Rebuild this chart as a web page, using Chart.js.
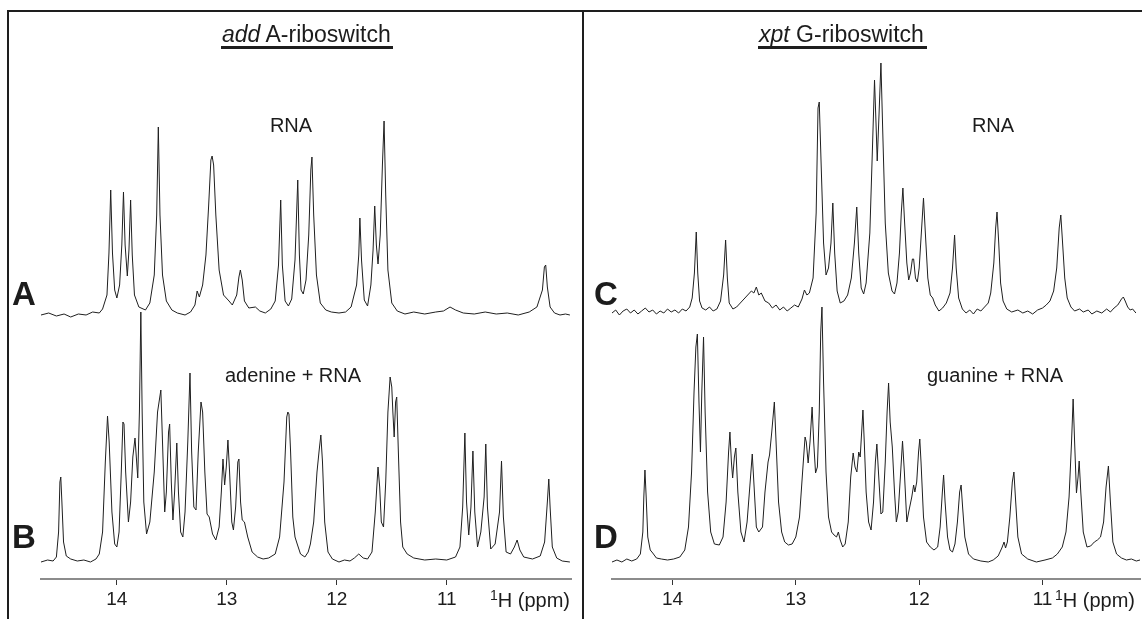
<!DOCTYPE html>
<html>
<head>
<meta charset="utf-8">
<script src="https://cdn.jsdelivr.net/npm/chart.js@4.4.1/dist/chart.umd.min.js"></script>
<style>
  body { margin: 0; background: #fff; }
  #fig { position: relative; width: 1142px; height: 619px; overflow: hidden;
         font-family: "Liberation Sans", Arial, sans-serif; color: #1c1c1c; }
  .rule { position: absolute; background: #1e1e1e; }
  .cv { position: absolute; }
  .txt { position: absolute; font-size: 20px; line-height: 20px; white-space: nowrap; }
  .title { position: absolute; font-size: 23px; line-height: 23px; white-space: nowrap; }
  .mid { transform: translateX(-50%); }
  .letter { position: absolute; font-size: 33px; line-height: 33px; font-weight: bold; }
  sup { font-size: 14px; vertical-align: 7px; line-height: 0; }
</style>
</head>
<body>
<div id="fig">
  <div class="rule" style="left:7px;top:10px;width:1135px;height:2px"></div>
  <div class="rule" style="left:7px;top:10px;width:2px;height:609px"></div>
  <div class="rule" style="left:582px;top:10px;width:2px;height:609px"></div>

  <div class="cv" style="left:9px;top:12px;width:573px;height:607px"><canvas id="addChart"></canvas></div>
  <div class="cv" style="left:585px;top:12px;width:557px;height:607px"><canvas id="xptChart"></canvas></div>

  <div class="title" style="left:222px;top:23px"><i>add</i> A-riboswitch</div>
  <div class="rule" style="left:221px;top:46px;width:172px;height:3px"></div>
  <div class="title" style="left:759px;top:23px"><i>xpt</i> G-riboswitch</div>
  <div class="rule" style="left:758px;top:46px;width:169px;height:3px"></div>

  <div class="txt mid" style="left:291px;top:115px">RNA</div>
  <div class="txt mid" style="left:293px;top:365px">adenine + RNA</div>
  <div class="txt mid" style="left:993px;top:115px">RNA</div>
  <div class="txt mid" style="left:995px;top:365px">guanine + RNA</div>

  <div class="letter" style="left:12px;top:277px">A</div>
  <div class="letter" style="left:12px;top:520px">B</div>
  <div class="letter" style="left:594px;top:277px">C</div>
  <div class="letter" style="left:594px;top:520px">D</div>

  <div class="txt" style="left:490px;top:590px"><sup>1</sup>H (ppm)</div>
  <div class="txt" style="left:1055px;top:590px"><sup>1</sup>H (ppm)</div>
</div>

<script>
// ppm axis ticks shown on both panels
const ppmTicks = [14, 13, 12, 11];

// add A-riboswitch, free RNA (A): [ppm, intensity]
const addFree = [
  [14.69,0],[14.62,2],[14.55,-1],[14.48,1],[14.42,-2],[14.35,1],[14.28,0],[14.22,3],[14.16,2],
  [14.13,6],[14.09,20],[14.072,62],[14.056,125],[14.04,62],[14.02,25],[14.0,17],[13.975,30],
  [13.955,70],[13.94,123],[13.925,70],[13.905,39],[13.89,65],[13.875,115],[13.86,60],[13.84,20],
  [13.80,8],[13.74,5],[13.70,12],[13.66,40],[13.638,100],[13.623,188],[13.608,100],[13.585,40],
  [13.55,14],[13.50,5],[13.45,2],[13.38,0],[13.33,3],[13.29,10],[13.27,24],[13.25,18],[13.22,30],
  [13.19,60],[13.165,110],[13.145,155],[13.134,159],[13.12,150],[13.10,100],[13.07,45],[13.03,20],
  [12.98,14],[12.95,10],[12.91,20],[12.89,38],[12.877,45],[12.86,35],[12.84,14],[12.80,7],
  [12.74,8],[12.70,4],[12.65,2],[12.60,6],[12.56,14],[12.53,50],[12.51,115],[12.495,50],
  [12.47,14],[12.44,9],[12.41,16],[12.38,55],[12.355,135],[12.34,60],[12.325,25],[12.305,21],
  [12.28,35],[12.255,80],[12.236,145],[12.226,158],[12.21,100],[12.185,40],[12.15,12],[12.10,5],
  [12.05,3],[11.98,2],[11.92,3],[11.87,8],[11.82,30],[11.80,60],[11.79,97],[11.775,55],[11.75,15],
  [11.72,9],[11.69,30],[11.67,65],[11.655,109],[11.64,70],[11.625,51],[11.605,80],[11.585,150],
  [11.57,194],[11.555,120],[11.535,45],[11.50,12],[11.45,4],[11.38,1],[11.30,3],[11.20,1],
  [11.10,3],[11.03,4],[10.97,8],[10.92,5],[10.85,2],[10.75,1],[10.65,3],[10.55,1],[10.45,2],
  [10.35,0],[10.25,3],[10.18,8],[10.13,25],[10.112,48],[10.10,50],[10.085,28],[10.06,8],
  [10.02,2],[9.97,0],[9.92,1],[9.88,0]
];

// add A-riboswitch, adenine + RNA (B)
const addBound = [
  [14.69,0],[14.63,2],[14.58,1],[14.55,5],[14.53,30],[14.518,80],[14.51,85],[14.50,60],[14.485,20],
  [14.46,6],[14.42,3],[14.36,1],[14.30,2],[14.24,0],[14.19,3],[14.16,8],[14.13,30],[14.105,100],
  [14.085,146],[14.07,120],[14.045,50],[14.02,18],[14.0,15],[13.98,30],[13.96,90],[13.945,140],
  [13.935,138],[13.92,90],[13.895,40],[13.875,60],[13.855,105],[13.835,124],[13.82,100],[13.81,84],
  [13.795,150],[13.782,250],[13.77,150],[13.755,60],[13.73,28],[13.70,40],[13.66,90],[13.63,150],
  [13.60,172],[13.585,120],[13.565,50],[13.55,70],[13.53,130],[13.52,138],[13.505,80],[13.49,42],
  [13.475,70],[13.455,119],[13.44,70],[13.42,30],[13.40,25],[13.38,50],[13.355,120],[13.335,189],
  [13.32,110],[13.30,55],[13.28,52],[13.26,110],[13.235,160],[13.22,150],[13.20,90],[13.18,48],
  [13.16,45],[13.13,28],[13.10,22],[13.07,35],[13.05,70],[13.035,103],[13.02,77],[13.005,95],
  [12.99,122],[12.975,90],[12.955,40],[12.94,32],[12.92,55],[12.90,100],[12.89,103],[12.875,60],
  [12.86,42],[12.84,40],[12.81,25],[12.77,10],[12.72,5],[12.67,3],[12.62,4],[12.56,8],[12.52,25],
  [12.48,80],[12.455,145],[12.445,150],[12.435,148],[12.42,110],[12.40,45],[12.38,25],[12.36,18],
  [12.33,8],[12.29,5],[12.26,10],[12.24,18],[12.21,40],[12.18,90],[12.16,112],[12.145,127],
  [12.13,100],[12.11,40],[12.08,10],[12.04,3],[11.98,0],[11.93,2],[11.88,1],[11.84,4],[11.80,8],
  [11.76,4],[11.72,3],[11.68,10],[11.65,50],[11.625,95],[11.61,75],[11.595,40],[11.575,35],
  [11.555,80],[11.535,150],[11.515,185],[11.50,175],[11.49,150],[11.478,125],[11.465,160],
  [11.455,165],[11.44,110],[11.42,40],[11.40,15],[11.36,8],[11.30,4],[11.20,2],[11.10,3],
  [11.00,2],[10.92,5],[10.88,15],[10.855,55],[10.835,129],[10.82,60],[10.80,27],[10.78,55],
  [10.762,111],[10.745,50],[10.72,15],[10.69,30],[10.66,65],[10.645,118],[10.63,55],[10.60,13],
  [10.56,18],[10.52,50],[10.502,101],[10.485,45],[10.46,10],[10.42,8],[10.385,15],[10.36,22],
  [10.335,12],[10.30,5],[10.22,3],[10.15,6],[10.11,20],[10.085,60],[10.072,83],[10.06,55],
  [10.04,15],[10.0,4],[9.95,1],[9.88,0]
];

// xpt G-riboswitch, free RNA (C)
const xptFree = [
  [14.49,0],[14.46,3],[14.43,-2],[14.40,2],[14.37,4],[14.34,0],[14.31,3],[14.28,-1],[14.25,2],
  [14.22,5],[14.19,1],[14.16,3],[14.13,-1],[14.10,2],[14.07,0],[14.04,4],[14.01,1],[13.98,3],
  [13.95,0],[13.92,4],[13.89,2],[13.86,6],[13.84,15],[13.822,40],[13.807,81],[13.795,40],
  [13.78,12],[13.76,5],[13.73,3],[13.70,6],[13.67,2],[13.64,4],[13.61,12],[13.585,38],[13.569,73],
  [13.555,35],[13.54,10],[13.51,4],[13.48,6],[13.45,10],[13.42,14],[13.39,18],[13.36,22],
  [13.34,20],[13.32,26],[13.30,18],[13.28,20],[13.25,12],[13.22,10],[13.19,5],[13.16,8],[13.13,3],
  [13.10,6],[13.07,2],[13.04,5],[13.01,8],[12.98,6],[12.95,14],[12.93,23],[12.91,18],[12.89,20],
  [12.86,35],[12.835,100],[12.82,205],[12.81,211],[12.795,150],[12.775,70],[12.755,38],[12.735,45],
  [12.715,70],[12.70,110],[12.685,60],[12.665,22],[12.64,10],[12.61,12],[12.58,18],[12.55,35],
  [12.525,70],[12.506,106],[12.49,60],[12.47,25],[12.45,19],[12.43,30],[12.40,80],[12.38,160],
  [12.362,233],[12.35,190],[12.34,152],[12.325,200],[12.31,250],[12.295,180],[12.275,90],
  [12.25,40],[12.22,22],[12.20,19],[12.18,30],[12.16,60],[12.145,100],[12.132,125],[12.12,95],
  [12.10,50],[12.085,33],[12.07,40],[12.055,54],[12.045,54],[12.03,35],[12.015,31],[12.0,45],
  [11.98,85],[11.965,115],[11.95,80],[11.93,35],[11.91,18],[11.89,15],[11.87,8],[11.84,2],
  [11.81,5],[11.78,10],[11.75,20],[11.73,45],[11.713,78],[11.70,45],[11.68,15],[11.65,4],
  [11.62,0],[11.59,3],[11.56,-1],[11.53,4],[11.50,2],[11.47,6],[11.44,10],[11.42,20],[11.395,50],
  [11.38,85],[11.369,101],[11.355,70],[11.34,30],[11.32,12],[11.29,4],[11.25,1],[11.20,3],
  [11.16,0],[11.12,2],[11.08,-1],[11.04,3],[11.00,5],[10.97,8],[10.94,12],[10.91,22],[10.885,45],
  [10.865,85],[10.852,98],[10.84,75],[10.82,35],[10.80,15],[10.77,6],[10.74,2],[10.70,4],
  [10.67,1],[10.63,3],[10.60,-1],[10.56,2],[10.52,0],[10.48,4],[10.45,1],[10.42,5],[10.39,8],
  [10.36,14],[10.345,16],[10.33,12],[10.31,6],[10.29,3],[10.27,4],[10.243,0]
];

// xpt G-riboswitch, guanine + RNA (D)
const xptBound = [
  [14.49,0],[14.45,2],[14.41,0],[14.37,3],[14.33,1],[14.29,3],[14.26,8],[14.24,30],[14.232,65],
  [14.223,92],[14.213,65],[14.20,25],[14.18,12],[14.16,9],[14.13,4],[14.09,3],[14.04,2],[13.99,3],
  [13.94,5],[13.90,12],[13.87,35],[13.845,90],[13.825,170],[13.81,215],[13.798,228],[13.785,160],
  [13.773,110],[13.762,170],[13.748,225],[13.735,150],[13.715,70],[13.69,30],[13.66,18],
  [13.62,17],[13.59,25],[13.565,60],[13.545,110],[13.534,130],[13.522,100],[13.512,84],
  [13.498,105],[13.486,114],[13.47,70],[13.445,30],[13.42,20],[13.395,40],[13.37,80],[13.353,108],
  [13.338,75],[13.32,35],[13.30,30],[13.27,35],[13.25,70],[13.225,100],[13.213,107],[13.195,130],
  [13.174,160],[13.16,120],[13.14,60],[13.115,30],[13.09,20],[13.06,17],[13.03,18],[13.0,25],
  [12.97,45],[12.945,90],[12.925,125],[12.915,120],[12.90,99],[12.885,120],[12.868,155],
  [12.855,120],[12.84,89],[12.825,95],[12.81,150],[12.798,230],[12.788,255],[12.775,180],
  [12.755,90],[12.735,45],[12.71,30],[12.69,27],[12.67,25],[12.655,30],[12.64,22],[12.62,15],
  [12.60,18],[12.575,40],[12.555,85],[12.535,109],[12.52,95],[12.505,90],[12.49,110],[12.478,105],
  [12.456,152],[12.445,120],[12.43,70],[12.41,40],[12.39,32],[12.37,60],[12.355,100],[12.343,118],
  [12.33,90],[12.31,48],[12.295,50],[12.275,100],[12.26,150],[12.248,179],[12.235,140],
  [12.218,115],[12.20,70],[12.185,40],[12.17,50],[12.15,90],[12.135,121],[12.12,90],[12.10,40],
  [12.085,50],[12.06,65],[12.045,77],[12.035,70],[12.02,80],[12.005,110],[11.995,123],[11.985,100],
  [11.965,45],[11.94,20],[11.91,15],[11.88,12],[11.85,15],[11.83,35],[11.812,70],[11.802,87],
  [11.79,60],[11.77,25],[11.75,12],[11.73,10],[11.71,18],[11.69,40],[11.672,70],[11.66,77],
  [11.648,55],[11.63,25],[11.60,8],[11.56,3],[11.50,1],[11.44,0],[11.40,2],[11.36,6],[11.33,14],
  [11.312,20],[11.30,14],[11.285,20],[11.265,45],[11.245,80],[11.232,90],[11.22,65],[11.20,25],
  [11.17,8],[11.12,3],[11.05,0],[10.98,2],[10.92,4],[10.88,8],[10.84,15],[10.81,30],[10.785,65],
  [10.765,120],[10.752,163],[10.74,120],[10.725,69],[10.712,85],[10.703,101],[10.69,70],
  [10.67,30],[10.64,15],[10.61,16],[10.58,20],[10.555,22],[10.53,25],[10.505,40],[10.485,75],
  [10.466,96],[10.45,60],[10.43,20],[10.40,8],[10.36,4],[10.32,2],[10.28,3],[10.24,1],[10.21,2]
];

// layout: y units are pixels above the ppm axis
const yTop = 529;
const lowerBase = 17;
const upperBaseAdd = 264;
const upperBaseXpt = 266;

function toXY(pts, base) {
  return pts.map(p => ({ x: p[0], y: p[1] + base }));
}

function spectrumChart(id, xmin, xmax, pad, upper, lower, upperBase) {
  const ds = (pts, base) => ({
    data: toXY(pts, base),
    borderColor: '#1f1f1f',
    borderWidth: 1,
    pointRadius: 0,
    tension: 0,
    fill: false
  });
  return new Chart(document.getElementById(id), {
    type: 'line',
    data: { datasets: [ds(upper, upperBase), ds(lower, lowerBase)] },
    options: {
      responsive: true,
      maintainAspectRatio: false,
      animation: false,
      layout: { padding: pad },
      plugins: { legend: { display: false }, tooltip: { enabled: false } },
      scales: {
        x: {
          type: 'linear',
          reverse: true,
          min: xmin,
          max: xmax,
          afterBuildTicks: s => { s.ticks = ppmTicks.map(v => ({ value: v })); },
          afterFit: s => { s.height = 40; },
          grid: { display: true, drawOnChartArea: false, drawTicks: true, tickLength: 6, color: '#333', lineWidth: 1 },
          border: { display: true, color: '#8c8c8c', width: 2 },
          ticks: {
            color: '#1c1c1c',
            padding: 3,
            maxRotation: 0,
            font: { family: '"Liberation Sans", Arial, sans-serif', size: 19 },
            callback: v => String(v)
          }
        },
        y: { display: false, min: 0, max: yTop }
      }
    }
  });
}

spectrumChart('addChart', 9.87, 14.69, { left: 32, right: 11, top: 38, bottom: 0 }, addFree, addBound, upperBaseAdd);
spectrumChart('xptChart', 10.21, 14.49, { left: 27, right: 2, top: 38, bottom: 0 }, xptFree, xptBound, upperBaseXpt);
</script>
</body>
</html>
